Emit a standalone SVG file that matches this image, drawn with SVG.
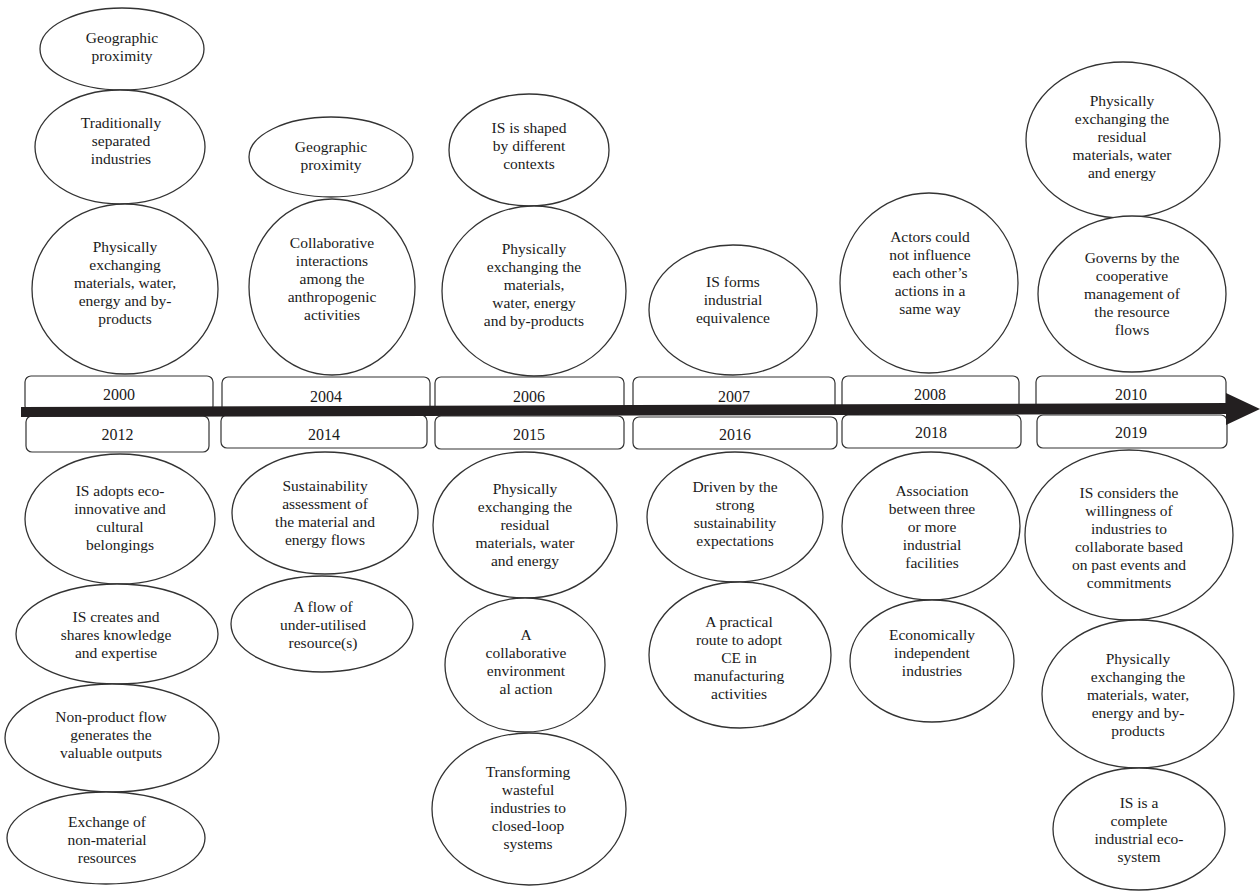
<svg xmlns="http://www.w3.org/2000/svg" width="1260" height="891" viewBox="0 0 1260 891">
<style>
text{font-family:'Liberation Serif','Times New Roman',serif;fill:#1a1a1a;text-anchor:middle}
.n ellipse{fill:#fff;stroke:#333;stroke-width:1.3}
.n text{font-size:15.5px}
.y rect{fill:#fff;stroke:#333;stroke-width:1.2}
.y text{font-size:16px}
.arrow{fill:#231f20}
</style>
<rect width="1260" height="891" fill="#fff"/>
<g id="n1" class="n"><ellipse cx="122" cy="49" rx="82" ry="41"/><text><tspan x="122" y="43">Geographic</tspan><tspan x="122" y="61">proximity</tspan></text></g>
<g id="n2" class="n"><ellipse cx="120" cy="147" rx="85" ry="57"/><text><tspan x="121" y="128">Traditionally</tspan><tspan x="121" y="146">separated</tspan><tspan x="121" y="164">industries</tspan></text></g>
<g id="n3" class="n"><ellipse cx="125" cy="289" rx="93" ry="85"/><text><tspan x="125" y="252">Physically</tspan><tspan x="125" y="270">exchanging</tspan><tspan x="125" y="288">materials, water,</tspan><tspan x="125" y="306">energy and by-</tspan><tspan x="125" y="324">products</tspan></text></g>
<g id="n4" class="n"><ellipse cx="331" cy="157" rx="82" ry="40"/><text><tspan x="331" y="152">Geographic</tspan><tspan x="331" y="170">proximity</tspan></text></g>
<g id="n5" class="n"><ellipse cx="332" cy="287" rx="83" ry="88"/><text><tspan x="332" y="248">Collaborative</tspan><tspan x="332" y="266">interactions</tspan><tspan x="332" y="284">among the</tspan><tspan x="332" y="302">anthropogenic</tspan><tspan x="332" y="320">activities</tspan></text></g>
<g id="n6" class="n"><ellipse cx="529" cy="150" rx="80" ry="56"/><text><tspan x="529" y="133">IS is shaped</tspan><tspan x="529" y="151">by different</tspan><tspan x="529" y="169">contexts</tspan></text></g>
<g id="n7" class="n"><ellipse cx="534" cy="291" rx="92" ry="85"/><text><tspan x="534" y="254">Physically</tspan><tspan x="534" y="272">exchanging the</tspan><tspan x="534" y="290">materials,</tspan><tspan x="534" y="308">water, energy</tspan><tspan x="534" y="326">and by-products</tspan></text></g>
<g id="n8" class="n"><ellipse cx="733" cy="310" rx="84" ry="65"/><text><tspan x="733" y="287">IS forms</tspan><tspan x="733" y="305">industrial</tspan><tspan x="733" y="323">equivalence</tspan></text></g>
<g id="n9" class="n"><ellipse cx="929" cy="283" rx="89" ry="90"/><text><tspan x="930" y="242">Actors could</tspan><tspan x="930" y="260">not influence</tspan><tspan x="930" y="278">each other’s</tspan><tspan x="930" y="296">actions in a</tspan><tspan x="930" y="314">same way</tspan></text></g>
<g id="n10" class="n"><ellipse cx="1123" cy="140" rx="97" ry="78"/><text><tspan x="1122" y="106">Physically</tspan><tspan x="1122" y="124">exchanging the</tspan><tspan x="1122" y="142">residual</tspan><tspan x="1122" y="160">materials, water</tspan><tspan x="1122" y="178">and energy</tspan></text></g>
<g id="n11" class="n"><ellipse cx="1132" cy="294" rx="94" ry="78"/><text><tspan x="1132" y="263">Governs by the</tspan><tspan x="1132" y="281">cooperative</tspan><tspan x="1132" y="299">management of</tspan><tspan x="1132" y="317">the resource</tspan><tspan x="1132" y="335">flows</tspan></text></g>
<g id="y2000" class="y"><rect x="25" y="376" width="188" height="36" rx="6"/><text x="119" y="400">2000</text></g>
<g id="y2004" class="y"><rect x="222" y="377" width="208" height="36" rx="6"/><text x="326" y="402">2004</text></g>
<g id="y2006" class="y"><rect x="435" y="377" width="189" height="36" rx="6"/><text x="529" y="402">2006</text></g>
<g id="y2007" class="y"><rect x="633" y="377" width="202" height="36" rx="6"/><text x="734" y="402">2007</text></g>
<g id="y2008" class="y"><rect x="842" y="376" width="177" height="36" rx="6"/><text x="930" y="400">2008</text></g>
<g id="y2010" class="y"><rect x="1036" y="376" width="190" height="36" rx="6"/><text x="1131" y="400">2010</text></g>
<g id="y2012" class="y"><rect x="26" y="416" width="183" height="36" rx="6"/><text x="117.5" y="440">2012</text></g>
<g id="y2014" class="y"><rect x="221" y="415" width="206" height="33" rx="6"/><text x="324" y="440">2014</text></g>
<g id="y2015" class="y"><rect x="435" y="416" width="189" height="33" rx="6"/><text x="529" y="440">2015</text></g>
<g id="y2016" class="y"><rect x="633" y="417" width="204" height="32" rx="6"/><text x="735" y="440">2016</text></g>
<g id="y2018" class="y"><rect x="842" y="415" width="179" height="33" rx="6"/><text x="931" y="438">2018</text></g>
<g id="y2019" class="y"><rect x="1037" y="415" width="190" height="33" rx="6"/><text x="1131" y="438">2019</text></g>
<g id="n12" class="n"><ellipse cx="120" cy="519" rx="95" ry="65"/><text><tspan x="120" y="496">IS adopts eco-</tspan><tspan x="120" y="514">innovative and</tspan><tspan x="120" y="532">cultural</tspan><tspan x="120" y="550">belongings</tspan></text></g>
<g id="n13" class="n"><ellipse cx="117" cy="634" rx="101" ry="50"/><text><tspan x="116" y="622">IS creates and</tspan><tspan x="116" y="640">shares knowledge</tspan><tspan x="116" y="658">and expertise</tspan></text></g>
<g id="n14" class="n"><ellipse cx="112" cy="738" rx="107" ry="54"/><text><tspan x="111" y="722">Non-product flow</tspan><tspan x="111" y="740">generates the</tspan><tspan x="111" y="758">valuable outputs</tspan></text></g>
<g id="n15" class="n"><ellipse cx="106" cy="838" rx="99" ry="46"/><text><tspan x="107" y="827">Exchange of</tspan><tspan x="107" y="845">non-material</tspan><tspan x="107" y="863">resources</tspan></text></g>
<g id="n16" class="n"><ellipse cx="325" cy="513" rx="93" ry="61"/><text><tspan x="325" y="491">Sustainability</tspan><tspan x="325" y="509">assessment of</tspan><tspan x="325" y="527">the material and</tspan><tspan x="325" y="545">energy flows</tspan></text></g>
<g id="n17" class="n"><ellipse cx="322" cy="624" rx="91" ry="48"/><text><tspan x="323" y="612">A flow of</tspan><tspan x="323" y="630">under-utilised</tspan><tspan x="323" y="648">resource(s)</tspan></text></g>
<g id="n18" class="n"><ellipse cx="525" cy="525" rx="92" ry="73"/><text><tspan x="525" y="494">Physically</tspan><tspan x="525" y="512">exchanging the</tspan><tspan x="525" y="530">residual</tspan><tspan x="525" y="548">materials, water</tspan><tspan x="525" y="566">and energy</tspan></text></g>
<g id="n19" class="n"><ellipse cx="525" cy="665" rx="80" ry="67"/><text><tspan x="526" y="640">A</tspan><tspan x="526" y="658">collaborative</tspan><tspan x="526" y="676">environment</tspan><tspan x="526" y="694">al action</tspan></text></g>
<g id="n20" class="n"><ellipse cx="529" cy="809" rx="97" ry="76"/><text><tspan x="528" y="777">Transforming</tspan><tspan x="528" y="795">wasteful</tspan><tspan x="528" y="813">industries to</tspan><tspan x="528" y="831">closed-loop</tspan><tspan x="528" y="849">systems</tspan></text></g>
<g id="n21" class="n"><ellipse cx="735" cy="517" rx="88" ry="65"/><text><tspan x="735" y="492">Driven by the</tspan><tspan x="735" y="510">strong</tspan><tspan x="735" y="528">sustainability</tspan><tspan x="735" y="546">expectations</tspan></text></g>
<g id="n22" class="n"><ellipse cx="740" cy="655" rx="91" ry="73"/><text><tspan x="739" y="627">A practical</tspan><tspan x="739" y="645">route to adopt</tspan><tspan x="739" y="663">CE in</tspan><tspan x="739" y="681">manufacturing</tspan><tspan x="739" y="699">activities</tspan></text></g>
<g id="n23" class="n"><ellipse cx="931" cy="526" rx="89" ry="74"/><text><tspan x="932" y="496">Association</tspan><tspan x="932" y="514">between three</tspan><tspan x="932" y="532">or more</tspan><tspan x="932" y="550">industrial</tspan><tspan x="932" y="568">facilities</tspan></text></g>
<g id="n24" class="n"><ellipse cx="932" cy="661" rx="82" ry="61"/><text><tspan x="932" y="640">Economically</tspan><tspan x="932" y="658">independent</tspan><tspan x="932" y="676">industries</tspan></text></g>
<g id="n25" class="n"><ellipse cx="1129" cy="535" rx="104" ry="85"/><text><tspan x="1129" y="498">IS considers the</tspan><tspan x="1129" y="516">willingness of</tspan><tspan x="1129" y="534">industries to</tspan><tspan x="1129" y="552">collaborate based</tspan><tspan x="1129" y="570">on past events and</tspan><tspan x="1129" y="588">commitments</tspan></text></g>
<g id="n26" class="n"><ellipse cx="1138" cy="694" rx="96" ry="74"/><text><tspan x="1138" y="664">Physically</tspan><tspan x="1138" y="682">exchanging the</tspan><tspan x="1138" y="700">materials, water,</tspan><tspan x="1138" y="718">energy and by-</tspan><tspan x="1138" y="736">products</tspan></text></g>
<g id="n27" class="n"><ellipse cx="1139" cy="829" rx="86" ry="61"/><text><tspan x="1139" y="808">IS is a</tspan><tspan x="1139" y="826">complete</tspan><tspan x="1139" y="844">industrial eco-</tspan><tspan x="1139" y="862">system</tspan></text></g>
<g id="connectors">
<polygon class="arrow" points="21,407 1228,403 1228,414 21,417"/>
<polygon class="arrow" points="1226,393 1260,409 1226,425"/>
</g>
</svg>
